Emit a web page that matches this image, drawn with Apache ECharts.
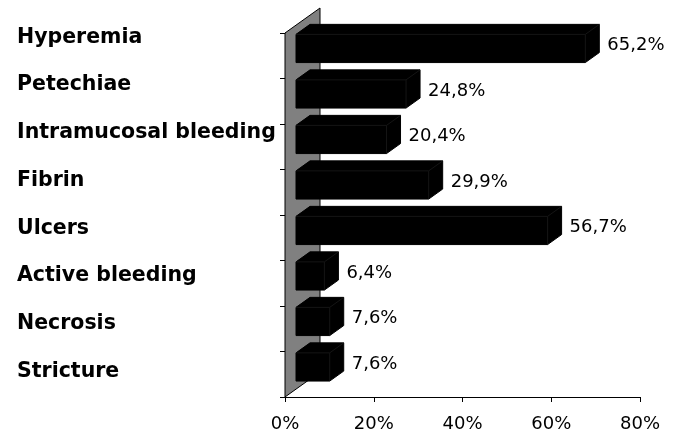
<!DOCTYPE html>
<html>
<head>
<meta charset="utf-8">
<script src="https://cdn.jsdelivr.net/npm/echarts@6/dist/echarts.min.js"></script>
<style>
  html, body { margin: 0; padding: 0; background: #fff; }
  #chart { width: 678px; height: 435px; }
</style>
</head>
<body>
<div id="chart"></div>
<script>
// Endoscopic findings, share of patients (%)
const categories = ['Hyperemia', 'Petechiae', 'Intramucosal bleeding', 'Fibrin', 'Ulcers', 'Active bleeding', 'Necrosis', 'Stricture'];
const values = [65.2, 24.8, 20.4, 29.9, 56.7, 6.4, 7.6, 7.6];
const axisMin = 0;
const axisMax = 80;
const axisStep = 20;

const FONT = 'DejaVu Sans';
const DEPTH_X = 14, DEPTH_Y = -10;   // bar extrusion
const WALL_X = 35, WALL_Y = -25;     // side wall depth
const BAR_SHIFT = 11;                // bars sit a little behind the front plane

const fmt = v => v.toFixed(1).replace('.', ',') + '%';

const chart = echarts.init(document.getElementById('chart'), null, { renderer: 'canvas' });

chart.setOption({
  animation: false,
  backgroundColor: '#fff',
  grid: [
    { left: 285, right: 38, top: 33, bottom: 38 },
    { left: 17, width: 10, top: 13.5, height: 382 }
  ],
  xAxis: [
    {
      gridIndex: 0, type: 'value', min: axisMin, max: axisMax, interval: axisStep,
      axisLine: { show: true, lineStyle: { color: '#000', width: 1 } },
      axisTick: { show: true, length: 5, lineStyle: { color: '#000' } },
      splitLine: { show: false },
      axisLabel: { formatter: '{value}%', color: '#000', fontFamily: FONT, fontSize: 18, margin: 18 }
    },
    { gridIndex: 1, type: 'value', show: false }
  ],
  yAxis: [
    {
      gridIndex: 0, type: 'category', data: categories, inverse: true,
      axisLine: { show: true, lineStyle: { color: '#000', width: 1 } },
      axisTick: { show: true, length: 5, lineStyle: { color: '#000' } },
      axisLabel: { show: false },
      splitLine: { show: false }
    },
    {
      gridIndex: 1, type: 'category', data: categories, inverse: true,
      axisLine: { show: false }, axisTick: { show: false },
      axisLabel: { align: 'left', margin: 0, color: '#000', fontFamily: FONT, fontWeight: 'bold', fontSize: 20.5 }
    }
  ],
  series: [
    {
      // gray side wall
      type: 'custom', xAxisIndex: 0, yAxisIndex: 0, silent: true, z: 1,
      data: [[0, 0]],
      renderItem: function (params) {
        const cs = params.coordSys;
        return {
          type: 'polygon',
          shape: { points: [
            [cs.x, cs.y + cs.height],
            [cs.x, cs.y],
            [cs.x + WALL_X, cs.y + WALL_Y],
            [cs.x + WALL_X, cs.y + cs.height + WALL_Y]
          ] },
          style: { fill: '#808080', stroke: '#000', lineWidth: 1 }
        };
      }
    },
    {
      type: 'custom', xAxisIndex: 0, yAxisIndex: 0, z: 2,
      encode: { x: 1, y: 0 },
      data: values.map((v, i) => [i, v]),
      renderItem: function (params, api) {
        const i = api.value(0), v = api.value(1);
        const p0 = api.coord([0, i]);
        const p1 = api.coord([v, i]);
        const band = api.size([0, 1])[1];
        const top = p0[1] - band / 2;
        const f0 = top + band * 0.03;
        const f1 = top + band * 0.65;
        const x0 = p0[0] + BAR_SHIFT;
        const x1 = p1[0] + BAR_SHIFT;
        return {
          type: 'group',
          children: [
            {
              type: 'polygon',
              shape: { points: [
                [x0, f0], [x0 + DEPTH_X, f0 + DEPTH_Y], [x1 + DEPTH_X, f0 + DEPTH_Y],
                [x1 + DEPTH_X, f1 + DEPTH_Y], [x1, f1], [x0, f1]
              ] },
              style: { fill: '#000', stroke: '#000', lineWidth: 1 }
            },
            {
              type: 'polyline',
              shape: { points: [[x0, f0], [x1, f0], [x1, f1]] },
              style: { fill: null, stroke: '#151515', lineWidth: 1 }
            },
            {
              type: 'line',
              shape: { x1: x1, y1: f0, x2: x1 + DEPTH_X, y2: f0 + DEPTH_Y },
              style: { stroke: '#151515', lineWidth: 1 }
            },
            {
              type: 'text',
              style: {
                text: fmt(v),
                x: x1 + DEPTH_X + 8,
                y: p0[1] - 10,
                align: 'left', verticalAlign: 'middle',
                fill: '#000', font: '18px "' + FONT + '"'
              }
            }
          ]
        };
      }
    }
  ]
});
</script>
</body>
</html>
